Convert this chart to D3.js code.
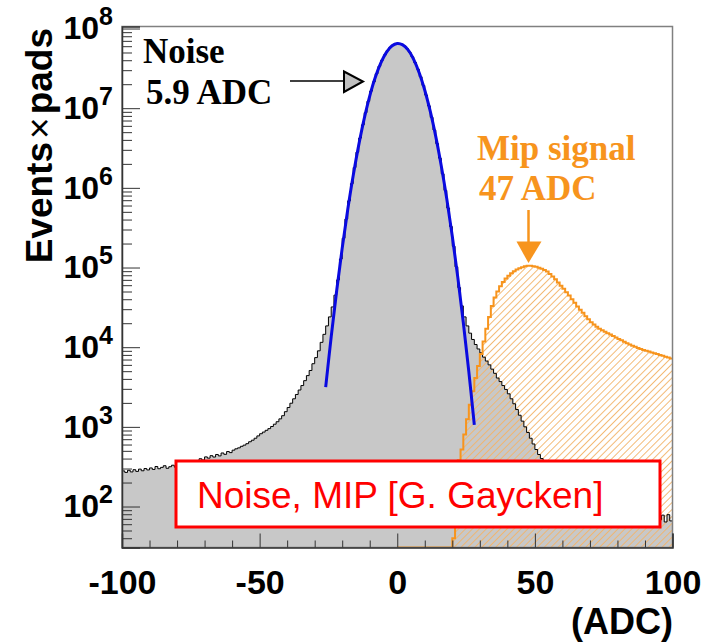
<!DOCTYPE html>
<html>
<head>
<meta charset="utf-8">
<script src="https://cdn.jsdelivr.net/npm/d3@7"></script>
<style>
  html, body { margin: 0; padding: 0; background: #fff; }
  svg { display: block; }
</style>
</head>
<body>
<svg id="chart"></svg>
<script>
// histogram binning (ADC)
const noiseLow = -100
const mipLow = 0
const binWidth = 1

// noise: pedestal-subtracted pad signal, 1 ADC bins from -100 to 100
const noiseCounts = [
  280, 268, 285, 272, 290, 276, 295, 281, 300, 288,
  305, 292, 318, 298, 310, 325, 302, 316, 330, 312,
  338, 326, 350, 338, 362, 350, 378, 362, 398, 384,
  420, 405, 435, 418, 450, 432, 470, 452, 490, 475,
  510, 530, 545, 570, 590, 615, 650, 680, 720, 770,
  820, 860, 905, 950, 1010, 1080, 1160, 1260, 1380, 1550,
  1750, 1980, 2250, 2550, 2900, 3300, 3800, 4400, 5100, 6200,
  7400, 9000, 11500, 14500, 18500, 24000, 32000, 45000, 70000, 128000,
  233000, 406000, 687000, 1.13e6, 1.80e6, 2.80e6, 4.22e6, 6.18e6, 8.79e6, 1.22e7,
  1.64e7, 2.14e7, 2.71e7, 3.35e7, 4.01e7, 4.67e7, 5.28e7, 5.81e7, 6.21e7, 6.44e7,
  6.50e7, 6.37e7, 6.07e7, 5.61e7, 5.05e7, 4.41e7, 3.74e7, 3.09e7, 2.48e7, 1.93e7,
  1.46e7, 1.07e7, 7.67e6, 5.32e6, 3.59e6, 2.36e6, 1.50e6, 929000, 558000, 327000,
  185000, 102000, 56000, 33000, 24000, 18500, 15000, 12500, 10800, 9500,
  8500, 7500, 6700, 6000, 5300, 4700, 4100, 3700, 3300, 2950,
  2600, 2250, 1950, 1650, 1400, 1180, 1000, 850, 720, 610,
  520, 450, 400, 360, 325, 295, 270, 250, 232, 218,
  205, 192, 182, 172, 164, 156, 150, 143, 137, 132,
  127, 122, 118, 114, 110, 106, 103, 100, 97, 94,
  92, 89, 87, 85, 83, 81, 80, 78, 77, 75,
  74, 73, 75, 70, 72, 68, 78, 64, 79, 66
]

// MIP signal, 1 ADC bins from 0 to 100
const mipCounts = [
  0, 0, 0, 0, 0, 0, 0, 0, 0, 0,
  0, 0, 0, 0, 0, 0, 0, 0, 0, 0,
  40, 150, 380, 520, 800, 1250, 1900, 2800, 4100, 5800,
  8200, 11800, 17000, 24000, 33000, 42000, 50000, 58000, 66000, 73000,
  79000, 85000, 90000, 94500, 98000, 101000, 103500, 105000, 105000, 104000,
  102000, 99500, 96500, 93000, 89000, 83000, 77000, 71000, 65000, 59000,
  54000, 49000, 44500, 40000, 36000, 32500, 29500, 27000, 24500, 22500,
  20500, 19200, 18100, 17100, 16300, 15600, 15000, 14400, 13800, 13200,
  12700, 12200, 11700, 11200, 10800, 10400, 10100, 9800, 9500, 9250,
  9000, 8800, 8600, 8400, 8200, 8000, 7800, 7600, 7400, 7200
]

// gaussian fit of the noise peak
const fitAdc = [-26, -24, -22, -20, -18, -16, -14, -12, -10, -8, -6, -4, -2, 0,
  2, 4, 6, 8, 10, 12, 14, 16, 18, 20, 22, 24, 26, 28]
const fitCounts = [3150, 13500, 51400, 175000, 530000, 1.43e6, 3.44e6, 7.40e6, 1.42e7, 2.42e7,
  3.67e7, 4.99e7, 6.03e7, 6.49e7, 6.24e7, 5.35e7, 4.07e7, 2.77e7, 1.68e7, 9.10e6,
  4.39e6, 1.88e6, 723000, 247000, 75200, 20400, 4930, 1060]

const xTicks = [-100, -50, 0, 50, 100]
const xMinorStep = 10
const yDecades = [2, 3, 4, 5, 6, 7, 8]

const width = 719
const height = 644
const margin = {top: 26.5, right: 46.5, bottom: 96.5, left: 122}
const sans = '"Liberation Sans", Arial, Helvetica, sans-serif'
const serif = '"Liberation Serif", "Times New Roman", serif'
const orange = '#f7941d'

const svg = d3.select('#chart')
  .attr('width', width)
  .attr('height', height)

const x = d3.scaleLinear()
  .domain([-100, 100])
  .range([margin.left, width - margin.right])

const yMin = 30.6
const y = d3.scaleLog()
  .domain([yMin, 1.06e8])
  .range([height - margin.bottom, margin.top])

const bottom = y.range()[0]

const defs = svg.append('defs')
defs.append('clipPath').attr('id', 'plot-clip')
  .append('rect')
  .attr('x', x.range()[0])
  .attr('y', y.range()[1])
  .attr('width', x.range()[1] - x.range()[0])
  .attr('height', bottom - y.range()[1])

const hatch = defs.append('pattern')
  .attr('id', 'hatch')
  .attr('patternUnits', 'userSpaceOnUse')
  .attr('width', 4.9)
  .attr('height', 4.9)
  .attr('patternTransform', 'rotate(45)')
hatch.append('line')
  .attr('x1', 2.45).attr('y1', 0)
  .attr('x2', 2.45).attr('y2', 4.9)
  .attr('stroke', '#f2b46a')
  .attr('stroke-width', 0.9)

// turn bin counts into step points, with a closing point at the upper edge
function steps(low, counts) {
  const pts = counts.map((c, i) => ({x0: low + i * binWidth, c}))
  pts.push({x0: low + counts.length * binWidth, c: counts[counts.length - 1]})
  return pts
}

const noiseSteps = steps(noiseLow, noiseCounts)
const mipSteps = steps(mipLow, mipCounts)

const area = d3.area()
  .curve(d3.curveStepAfter)
  .x(d => x(d.x0))
  .y0(bottom)
  .y1(d => y(Math.max(d.c, yMin)))

const outline = d3.line()
  .curve(d3.curveStepAfter)
  .x(d => x(d.x0))
  .y(d => y(Math.max(d.c, yMin)))

const plot = svg.append('g').attr('clip-path', 'url(#plot-clip)')

plot.append('path')
  .attr('d', area(noiseSteps))
  .attr('fill', '#c8c8c8')

plot.append('path')
  .attr('d', area(mipSteps))
  .attr('fill', 'url(#hatch)')

plot.append('path')
  .attr('d', outline(noiseSteps))
  .attr('fill', 'none')
  .attr('stroke', '#000')
  .attr('stroke-width', 1)

plot.append('path')
  .attr('d', outline(mipSteps))
  .attr('fill', 'none')
  .attr('stroke', orange)
  .attr('stroke-width', 2)

const fit = d3.line()
  .curve(d3.curveCatmullRom)
  .x((d, i) => x(fitAdc[i]))
  .y(d => y(d))

plot.append('path')
  .attr('d', fit(fitCounts))
  .attr('fill', 'none')
  .attr('stroke', '#0a0ae0')
  .attr('stroke-width', 3)

// legend box
svg.append('rect')
  .attr('x', 176).attr('y', 461)
  .attr('width', 484).attr('height', 66)
  .attr('fill', '#fff')
  .attr('stroke', '#ff0000')
  .attr('stroke-width', 3)

svg.append('text')
  .attr('x', 197).attr('y', 508)
  .attr('font-family', sans)
  .attr('font-size', 37)
  .attr('fill', '#ff0000')
  .text('Noise, MIP [G. Gaycken]')

// frame
svg.append('rect')
  .attr('x', x.range()[0]).attr('y', y.range()[1])
  .attr('width', x.range()[1] - x.range()[0])
  .attr('height', bottom - y.range()[1])
  .attr('fill', 'none')
  .attr('stroke', '#808080')
  .attr('stroke-width', 1.5)

// x axis
const xMinor = d3.range(-100, 101, xMinorStep).filter(v => !xTicks.includes(v))

const xAxis = svg.append('g')
  .attr('transform', `translate(0,${bottom})`)
  .call(d3.axisBottom(x).tickValues(xTicks).tickSize(-14).tickPadding(22)
    .tickFormat(d => String(d)))
xAxis.select('.domain').attr('stroke', '#333').attr('stroke-width', 1.5)
xAxis.selectAll('line').attr('stroke', '#333')
xAxis.selectAll('text')
  .attr('font-family', sans)
  .attr('font-weight', 'bold')
  .attr('font-size', 34)
  .attr('fill', '#000')

svg.append('g')
  .attr('transform', `translate(0,${bottom})`)
  .call(d3.axisBottom(x).tickValues(xMinor).tickSize(-7).tickFormat(''))
  .call(g => g.select('.domain').remove())
  .selectAll('line').attr('stroke', '#333')

// y axis
const yMajor = yDecades.map(e => Math.pow(10, e))
const yMinor = []
d3.range(1, 9).forEach(e => {
  d3.range(2, 10).forEach(m => {
    const v = m * Math.pow(10, e)
    if (v >= yMin && v <= y.domain()[1]) yMinor.push(v)
  })
})

const yAxis = svg.append('g')
  .attr('transform', `translate(${x.range()[0]},0)`)
  .call(d3.axisLeft(y).tickValues(yMajor).tickSize(-18).tickPadding(9).tickFormat(''))
yAxis.select('.domain').attr('stroke', '#333').attr('stroke-width', 1.5)
yAxis.selectAll('line').attr('stroke', '#333')
yAxis.selectAll('text')
  .attr('font-family', sans)
  .attr('font-weight', 'bold')
  .attr('font-size', 32)
  .attr('fill', '#000')
  .each(function(d) {
    const t = d3.select(this)
    t.append('tspan').text('10')
    t.append('tspan')
      .attr('font-size', 25)
      .attr('dy', -14)
      .text(Math.round(Math.log10(d)))
  })

svg.append('g')
  .attr('transform', `translate(${x.range()[0]},0)`)
  .call(d3.axisLeft(y).tickValues(yMinor).tickSize(-10).tickFormat(''))
  .call(g => g.select('.domain').remove())
  .selectAll('line').attr('stroke', '#333')

// axis titles
const yTitle = svg.append('text')
  .attr('transform', 'translate(52,28) rotate(-90)')
  .attr('text-anchor', 'end')
  .attr('font-family', sans)
  .attr('font-weight', 'bold')
  .attr('font-size', 37)
  .attr('fill', '#000')
yTitle.append('tspan').text('Events')
yTitle.append('tspan').attr('font-weight', 'normal').attr('dx', 3).text('\u00d7')
yTitle.append('tspan').attr('dx', 3).text('pads')

svg.append('text')
  .attr('x', 673).attr('y', 634)
  .attr('text-anchor', 'end')
  .attr('font-family', sans)
  .attr('font-weight', 'bold')
  .attr('font-size', 36)
  .attr('fill', '#000')
  .text('(ADC)')

// noise annotation
svg.append('text')
  .attr('x', 143).attr('y', 63)
  .attr('font-family', serif)
  .attr('font-weight', 'bold')
  .attr('font-size', 35)
  .attr('fill', '#000')
  .text('Noise')
svg.append('text')
  .attr('x', 146).attr('y', 104)
  .attr('font-family', serif)
  .attr('font-weight', 'bold')
  .attr('font-size', 35)
  .attr('fill', '#000')
  .text('5.9 ADC')
svg.append('line')
  .attr('x1', 290).attr('y1', 81)
  .attr('x2', 344).attr('y2', 81)
  .attr('stroke', '#000')
  .attr('stroke-width', 1.5)
svg.append('path')
  .attr('d', 'M344,71.5 L344,92 L363,81.5 Z')
  .attr('fill', '#c0c0c0')
  .attr('stroke', '#000')
  .attr('stroke-width', 2)

// MIP annotation
svg.append('text')
  .attr('x', 477).attr('y', 160)
  .attr('font-family', serif)
  .attr('font-weight', 'bold')
  .attr('font-size', 35)
  .attr('fill', orange)
  .text('Mip signal')
svg.append('text')
  .attr('x', 479).attr('y', 200)
  .attr('font-family', serif)
  .attr('font-weight', 'bold')
  .attr('font-size', 35)
  .attr('fill', orange)
  .text('47 ADC')
svg.append('line')
  .attr('x1', 528.5).attr('y1', 210)
  .attr('x2', 528.5).attr('y2', 243)
  .attr('stroke', orange)
  .attr('stroke-width', 2.5)
svg.append('path')
  .attr('d', 'M516.5,241.5 L541.5,241.5 L528.5,263 Z')
  .attr('fill', orange)
</script>
</body>
</html>
